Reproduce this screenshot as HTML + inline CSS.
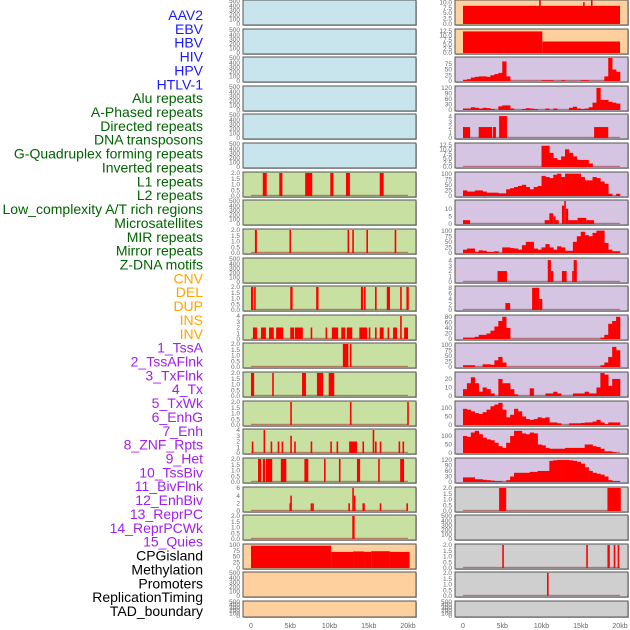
<!DOCTYPE html>
<html><head><meta charset="utf-8"><style>
html,body{margin:0;padding:0;background:#fff;width:630px;height:630px;overflow:hidden}
svg{display:block}
</style></head><body>
<svg id="chart" width="630" height="630" viewBox="0 0 630 630" xmlns="http://www.w3.org/2000/svg">
<g id="labels"></g>
<g id="panels"></g>
<g id="xaxes"></g>
</svg>
<script>
const NS="http://www.w3.org/2000/svg";
const trackLabels=["AAV2","EBV","HBV","HIV","HPV","HTLV-1","Alu repeats","A-Phased repeats","Directed repeats","DNA transposons","G-Quadruplex forming repeats","Inverted repeats","L1 repeats","L2 repeats","Low_complexity A/T rich regions","Microsatellites","MIR repeats","Mirror repeats","Z-DNA motifs","CNV","DEL","DUP","INS","INV","1_TssA","2_TssAFlnk","3_TxFlnk","4_Tx","5_TxWk","6_EnhG","7_Enh","8_ZNF_Rpts","9_Het","10_TssBiv","11_BivFlnk","12_EnhBiv","13_ReprPC","14_ReprPCWk","15_Quies","CPGisland","Methylation","Promoters","ReplicationTiming","TAD_boundary"];
const labelGroups=[6,13,5,15,5];
const groupColors=["#1a1aff","#006400","#ffa500","#a020f0","#000000"];
const xTicks=[0,5,10,15,20];
const xTickLabels=["0","5kb","10kb","15kb","20kb"];
const T500=[0,100,200,300,400,500], T2=[0,0.5,1,1.5,2], T4=[0,1,2,3,4];
// Left column panels
const leftColors=["#c8e4ec","#c8e4ec","#c8e4ec","#c8e4ec","#c8e4ec","#c8e4ec","#c8e0a2","#c8e0a2","#c8e0a2","#c8e0a2","#c8e0a2","#c8e0a2","#c8e0a2","#c8e0a2","#c8e0a2","#c8e0a2","#c8e0a2","#c8e0a2","#c8e0a2","#fed09e","#fed09e","#fed09e"];
const leftMax=[500,500,500,500,500,500,2,500,2,500,2,4,2,2,2,4,2,6,2,100,500,500];
const leftTicks=[T500,T500,T500,T500,T500,T500,T2,T500,T2,T500,T2,T4,T2,T2,T2,T4,T2,[0,2,4,6],T2,[0,25,50,75,100],T500,T500];
const leftSegs=[[],[],[],[],[],[],
[[1.5,2.0,2],[3.6,4.0,2],[6.9,7.8,2],[10.1,10.5,2],[12.1,12.6,2],[16.4,16.9,2]],
[],
[[0.5,0.75,2],[4.9,5.1,2],[12.3,12.5,2],[12.9,13.1,2],[14.7,14.9,2],[18.3,18.5,2]],
[],
[[0,0.3,2],[0.4,0.6,2],[5.0,5.3,2],[8.3,8.6,2],[14.0,14.3,2],[14.4,14.6,2],[15.8,16.0,2],[17.3,17.7,2],[19.0,19.2,2],[19.8,20.1,2]],
[[0.25,0.76,2],[1.27,1.9,2],[2.3,2.9,2],[3.2,4.1,2],[5.0,5.5,2],[5.6,6.6,2],[7.6,7.8,2],[9.5,9.7,2],[10.3,11.1,2],[11.5,12.0,2],[12.2,12.9,2],[13.8,14.8,2],[15.0,15.2,2],[15.8,16.0,2],[16.4,16.9,2],[17.4,17.6,2],[18.1,18.6,2],[19.0,19.2,4],[19.5,20.0,2]],
[[11.7,12.4,2],[12.6,12.8,2]],
[[0,0.4,2],[2.7,2.9,2],[6.5,7.0,2],[8.4,9.2,2],[9.9,10.6,2]],
[[5.0,5.2,2],[12.6,12.8,2],[19.9,20.1,2]],
[[0.1,0.3,2],[1.6,1.8,4],[2.5,2.7,2],[3.4,3.6,2],[3.9,4.1,2],[5.0,5.2,3],[5.5,5.7,2],[7.6,7.8,2],[10.1,10.3,2],[10.9,11.1,2],[12.5,13.5,2],[14.2,14.4,2],[15.5,15.7,4],[15.8,16.0,2],[16.4,16.6,2],[18.8,19.0,2],[19.3,19.5,2]],
[[0.9,1.3,2],[1.5,1.8,2],[1.9,2.7,2],[3.8,4.5,2],[6.8,7.3,2],[9.3,9.5,2],[11.2,11.4,2],[13.5,13.9,2],[16.2,16.4,2],[19.0,19.5,2]],
[[4.9,5.1,2],[5.0,5.2,4],[7.6,7.8,2],[7.8,8.0,2],[12.4,12.6,2],[12.9,13.1,6],[13.1,13.3,4],[14.2,14.5,2],[16.4,16.6,2],[19.8,20.0,2]],
[[12.9,13.2,2]],
[[0,10.2,97],[10.2,13,70],[13,14.4,72],[14.4,15.3,70],[15.3,17.7,73],[17.7,20.2,70]],
[],[]];
// Right column panels
const rightColors=["#fed09e","#fed09e","#d5c5e2","#d5c5e2","#d5c5e2","#d5c5e2","#d5c5e2","#d5c5e2","#d5c5e2","#d5c5e2","#d5c5e2","#d5c5e2","#d5c5e2","#d5c5e2","#d5c5e2","#d5c5e2","#d5c5e2","#cfcfcf","#cfcfcf","#cfcfcf","#cfcfcf","#cfcfcf"];
const rightMax=[10.5,13,100,125,4.2,13,103,15,103,4.2,8.3,83,103,27,135,135,125,2,500,2,2,500];
const rightTicks=[[0,2.5,5,7.5,10],[0,2.5,5,7.5,10,12.5],[0,25,50,75],[0,30,60,90,120],T4,[0,2.5,5,7.5,10,12.5],[0,25,50,75,100],[0,5,10],[0,25,50,75,100],T4,[0,2,4,6,8],[0,20,40,60,80],[0,25,50,75,100],[0,10,20],[0,50,100],[0,50,100],[0,30,60,90,120],T2,T500,T2,T2,T500];
const rightSegs=[
[[0,20,8.3],[9.7,9.9,11],[15.3,15.5,10],[16.3,16.5,11]],
[[0,10.1,12.2],[10.1,20,6.5]],
[],[],
[[0,0.9,2],[2.0,3.7,2],[3.8,4.2,2],[4.6,5.6,4],[16.7,18.5,2]],
[],[],
[[0,0.9,2.5],[10.4,11,2.5],[11,11.5,7],[11.5,11.8,5],[11.8,12.2,2.5],[12.6,12.9,12],[12.9,13.1,15],[13.1,13.4,10],[13.4,14.6,2.5],[14.6,15.7,4],[15.7,16.7,2.5]],
[],
[[4.4,5.6,2],[10.8,11.2,4],[11.2,11.5,2],[12.6,13.2,2],[13.9,14.1,2],[14.1,14.5,4]],
[[5.4,6.0,2.5],[8.8,9.7,8],[9.7,10.1,4]],
[],[],[],[],[],[],
[[4.6,5.5,2],[18.4,20.1,2]],
[],
[[5.0,5.2,2],[15.7,15.9,2],[18.4,18.7,2],[19.2,19.4,2],[19.7,19.9,2]],
[[10.7,10.9,2]],
[]];
const binsR2=[5,8,15,18,20,20,18,25,30,35,85,20,0,0,0,0,0,0,0,0,3,3,3,0,0,3,0,0,0,0,3,3,0,0,0,0,20,100,50,40];
const binsR3=[8,8,15,12,8,12,10,5,0,20,25,25,8,0,0,5,10,8,5,0,0,8,0,8,0,0,0,12,18,8,5,8,15,40,120,55,55,45,40,35];
const binsR5=[0,0,0,0,0,0,0,0,0,0,0,0,0,0,0,0,0,0,0,0,12,12,8,5,4,6,10,8,6,4,4,4,2,0,0,0,0,0,0,0];
const binsR6=[25,20,20,25,25,20,15,15,15,12,12,30,35,40,45,50,40,30,40,45,90,85,80,95,100,85,100,100,100,100,85,70,70,85,80,65,55,10,0,10];
const binsR8=[15,20,20,5,12,10,5,5,8,0,25,25,22,20,15,35,50,50,20,15,25,40,25,15,30,25,10,10,50,75,95,80,75,90,100,100,45,15,8,8];
const binsR11=[5,5,5,8,15,15,20,30,45,65,80,40,0,0,0,0,0,0,0,0,0,0,0,0,0,0,0,0,0,0,0,0,0,0,0,5,15,55,65,80];
const binsR12=[8,8,8,0,0,12,12,10,30,45,20,0,0,0,0,0,0,0,0,0,0,0,0,0,0,0,0,0,0,0,0,0,0,0,0,8,20,45,90,75];
const binsR13=[8,15,22,15,5,10,8,3,0,20,15,15,8,2,0,0,0,9,0,0,0,3,3,5,3,0,0,0,3,3,3,5,3,3,10,27,25,12,20,20];
const binsR14=[95,90,80,70,65,75,90,110,120,130,90,45,60,95,80,50,35,30,35,45,40,45,15,15,10,0,0,10,10,10,12,15,15,20,30,15,5,15,15,15];
const binsR15=[100,95,120,130,110,90,80,75,60,40,30,60,100,130,130,115,110,120,115,50,45,30,25,25,25,25,30,30,30,30,30,50,50,40,35,25,10,10,5,0];
const binsR16=[25,25,25,15,15,12,10,8,5,5,0,10,30,50,50,50,50,55,55,60,60,60,115,118,120,120,120,118,115,110,100,80,60,50,45,40,30,10,5,5];
const rightBins={2:binsR2,3:binsR3,5:binsR5,6:binsR6,8:binsR8,11:binsR11,12:binsR12,13:binsR13,14:binsR14,15:binsR15,16:binsR16};

function mk(tag,attrs,parent){const e=document.createElementNS(NS,tag);for(const k in attrs)e.setAttribute(k,attrs[k]);parent.appendChild(e);return e;}
const rowTop=r=>Math.round(28.62*r);
const rowH=r=>r===21?16:25;

const lg=document.getElementById('labels');
let li=0;
labelGroups.forEach((n,g)=>{for(let k=0;k<n;k++){
  const t=mk('text',{x:203,y:15+li*13.86,'text-anchor':'end','dominant-baseline':'central','font-family':'Liberation Sans, sans-serif','font-size':14,fill:groupColors[g]},lg);
  t.textContent=trackLabels[li];
  
  
  li++;}});

const pg=document.getElementById('panels');
function drawPanel(col,r,color,max,ticks,segs,bins){
  const px0=col===0?243:455, pw=173;
  const x0=col===0?251:463, xs=157/20;
  const top=rowTop(r), h=rowH(r);
  const g=mk('g',{},pg);
  
  
  mk('rect',{x:px0+1,y:top+1,width:pw,height:h,fill:'#bbb'},g);
  mk('rect',{x:px0,y:top,width:pw,height:h,fill:color,stroke:'#555','stroke-width':1},g);
  const base=top+h-1, ph=h-2;
  const yv=v=>base-Math.min(v/max,1.04)*ph;
  const hasData=segs.length>0||bins;
  if(hasData){
    const bl=mk('rect',{x:x0,y:base-1.2,width:157,height:1.2,fill:'rgba(150,30,30,0.5)'},g);
    
    
  }
  segs.forEach(s=>{
    const y=Math.max(yv(s[2]),top+0.5);
    const b=mk('rect',{x:x0+s[0]*xs,y:y,width:Math.max((s[1]-s[0])*xs,1.6),height:base-y,fill:'#ff0000'},g);
    
    
  });
  if(bins){
    const bw=20/bins.length;
    bins.forEach((v,i)=>{ if(v<=0)return;
      const y=Math.max(yv(v),top+0.5);
      const b=mk('rect',{x:x0+i*bw*xs,y:y,width:bw*xs+0.3,height:base-y,fill:'#ff0000'},g);
      
      
    });
  }
  const tx=col===0?240:452;
  const dec=ticks.some(q=>q%1!==0);
  ticks.forEach(tv=>{
    const t=mk('text',{x:tx,y:yv(tv)+2.2,'text-anchor':'end','font-family':'Liberation Sans, sans-serif','font-size':6.5,fill:'#6a6a6a'},g);
    t.textContent=dec?tv.toFixed(1):String(tv);
    
    
  });
}
for(let r=0;r<22;r++){
  drawPanel(0,r,leftColors[r],leftMax[r],leftTicks[r],leftSegs[r],null);
  drawPanel(1,r,rightColors[r],rightMax[r],rightTicks[r],rightSegs[r],rightBins[r]||null);
}
const xg=document.getElementById('xaxes');
[251,463].forEach(x0=>{
  xTicks.forEach((kb,i)=>{
    const t=mk('text',{x:x0+kb*157/20,y:628,'text-anchor':'middle','font-family':'Liberation Sans, sans-serif','font-size':7,fill:'#666'},xg);
    t.textContent=xTickLabels[i];
    
    
  });
});
</script>
</body></html>
